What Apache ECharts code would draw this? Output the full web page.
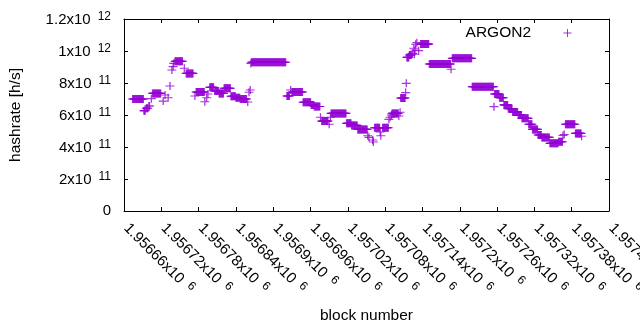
<!DOCTYPE html>
<html>
<head>
<meta charset="utf-8">
<script src="https://cdn.jsdelivr.net/npm/echarts@6/dist/echarts.min.js"></script>
<style>
  html, body { margin: 0; padding: 0; background: #fff; }
  #chart { width: 640px; height: 330px; }
</style>
</head>
<body>
<div id="chart"></div>
<script>
// flat stretches of the ARGON2 hashrate estimate: one point per block from runStart to runEnd
const runStart = [
  1956674, 1956692, 1956696, 1956700, 1956704, 1956706, 1956723, 1956726, 1956731, 1956734,
  1956737, 1956739, 1956740, 1956742, 1956757, 1956760, 1956774, 1956776, 1956790, 1956793,
  1956795, 1956798, 1956806, 1956813, 1956821, 1956832, 1956840, 1956847, 1956859, 1956861,
  1956863, 1956864, 1956865, 1956922, 1956928, 1956930, 1956948, 1956961, 1956966, 1956976,
  1956978, 1956990, 1956992, 1956993, 1957018, 1957026, 1957036, 1957052, 1957054, 1957060,
  1957061, 1957063, 1957072, 1957073, 1957076, 1957086, 1957088, 1957090, 1957091, 1957102,
  1957104, 1957105, 1957113, 1957114, 1957115, 1957119, 1957124, 1957126, 1957127, 1957128,
  1957129, 1957131, 1957134, 1957137, 1957151, 1957186, 1957188, 1957220, 1957255, 1957256,
  1957264, 1957271, 1957278, 1957285, 1957294, 1957300, 1957311, 1957317, 1957326, 1957332,
  1957345, 1957359, 1957366, 1957368, 1957370, 1957386, 1957396
]
const runEnd = [
  1956691, 1956694, 1956698, 1956701, 1956704, 1956719, 1956723, 1956726, 1956731, 1956734,
  1956737, 1956739, 1956740, 1956754, 1956757, 1956771, 1956774, 1956789, 1956790, 1956793,
  1956795, 1956804, 1956812, 1956820, 1956831, 1956839, 1956846, 1956857, 1956859, 1956861,
  1956863, 1956864, 1956920, 1956926, 1956928, 1956947, 1956960, 1956965, 1956975, 1956976,
  1956988, 1956990, 1956992, 1957017, 1957025, 1957035, 1957051, 1957052, 1957054, 1957060,
  1957061, 1957071, 1957072, 1957073, 1957085, 1957086, 1957088, 1957090, 1957101, 1957102,
  1957104, 1957112, 1957113, 1957114, 1957118, 1957122, 1957124, 1957126, 1957127, 1957128,
  1957129, 1957131, 1957134, 1957150, 1957185, 1957186, 1957219, 1957254, 1957255, 1957263,
  1957270, 1957277, 1957284, 1957293, 1957299, 1957310, 1957316, 1957325, 1957331, 1957344,
  1957358, 1957365, 1957366, 1957368, 1957385, 1957395, 1957396
]
const hashrate = [
  7.00e11, 6.27e11, 6.42e11, 6.56e11, 7.02e11, 7.35e11, 6.87e11, 7.25e11, 7.08e11, 7.81e11,
  8.81e11, 9.02e11, 9.23e11, 9.36e11, 8.92e11, 8.60e11, 7.19e11, 7.44e11, 6.83e11, 7.08e11,
  7.31e11, 7.73e11, 7.50e11, 7.35e11, 7.67e11, 7.17e11, 7.08e11, 7.00e11, 6.81e11, 7.42e11,
  7.56e11, 9.22e11, 9.30e11, 7.19e11, 7.56e11, 7.44e11, 6.80e11, 6.63e11, 6.53e11, 5.86e11,
  5.62e11, 5.42e11, 5.86e11, 6.10e11, 5.48e11, 5.35e11, 5.10e11, 4.70e11, 4.60e11, 4.44e11,
  4.31e11, 5.20e11, 4.94e11, 4.70e11, 5.20e11, 5.73e11, 5.86e11, 6.00e11, 6.10e11, 5.94e11,
  6.17e11, 7.06e11, 7.40e11, 7.98e11, 9.60e11, 9.75e11, 9.85e11, 10.17e11, 9.80e11, 10.06e11,
  10.42e11, 10.52e11, 10.02e11, 10.43e11, 9.19e11, 8.86e11, 9.54e11, 7.77e11, 6.52e11, 7.31e11,
  7.08e11, 6.63e11, 6.40e11, 6.19e11, 6.00e11, 5.79e11, 5.42e11, 5.10e11, 4.75e11, 4.60e11,
  4.23e11, 4.33e11, 4.72e11, 4.78e11, 5.42e11, 4.85e11, 4.67e11
]

// axis ranges / tick steps
const xMin = 1956660, xMax = 1957440, xStep = 60
const yMin = 0, yMax = 1.2e12, yStep = 2e11

const seriesName = "ARGON2"
const purple = "#9400d3"
const plus = "path://M0,4H8M4,0V8"
const font = "Liberation Sans, Arial, sans-serif"

const points = []
runStart.forEach((s, i) => {
  for (let b = s; b <= runEnd[i]; b++) points.push([b, hashrate[i]])
})

// gnuplot style "1.2x10^12" labels
function sciLabel(v, exp) {
  if (v === 0) return "{m|0}"
  if (exp == null) exp = Math.floor(Math.log10(v) + 1e-9)
  const mant = +(v / Math.pow(10, exp)).toFixed(5)
  return "{m|" + mant + "x10}{s|" + exp + "}"
}
const rich = {
  m: { fontFamily: font, fontSize: 15, color: "#000", verticalAlign: "bottom" },
  s: { fontFamily: font, fontSize: 12, color: "#000", verticalAlign: "bottom", padding: [0, 0, 5, 7] },
}

const chart = echarts.init(document.getElementById("chart"), null, { renderer: "canvas" })

const tickLine = { color: "#000", width: 1 }

chart.setOption({
  animation: false,
  backgroundColor: "#fff",
  grid: { left: 124, right: 31, top: 19, bottom: 119, outerBoundsMode: "none" },
  legend: {
    data: [{ name: seriesName, icon: plus }],
    right: 63,
    top: 20,
    align: "right",
    itemWidth: 9,
    itemHeight: 8,
    itemStyle: { color: purple, borderColor: purple, borderWidth: 1 },
    textStyle: { fontFamily: font, fontSize: 15.5, color: "#000", padding: [0, 27, 0, 0] },
  },
  xAxis: [
    {
      type: "value",
      position: "bottom",
      min: xMin,
      max: xMax,
      interval: xStep,
      name: "block number",
      nameLocation: "middle",
      nameGap: 97,
      nameTextStyle: { fontFamily: font, fontSize: 15.5, color: "#000" },
      axisLine: { show: true, onZero: false, lineStyle: tickLine },
      axisTick: { show: true, inside: true, length: 4, lineStyle: tickLine },
      axisLabel: {
        rotate: -45,
        margin: 17,
        padding: [0, 0, 8, 0],
        formatter: (v) => sciLabel(v, 6),
        rich,
      },
      splitLine: { show: false },
    },
    {
      type: "value",
      position: "top",
      min: xMin,
      max: xMax,
      interval: xStep,
      axisLine: { show: true, onZero: false, lineStyle: tickLine },
      axisTick: { show: true, inside: true, length: 4, lineStyle: tickLine },
      axisLabel: { show: false },
      splitLine: { show: false },
    },
  ],
  yAxis: [
    {
      type: "value",
      position: "left",
      min: yMin,
      max: yMax,
      interval: yStep,
      name: "hashrate [h/s]",
      nameLocation: "middle",
      nameGap: 100,
      nameRotate: 90,
      nameTextStyle: { fontFamily: font, fontSize: 15.5, color: "#000" },
      axisLine: { show: true, onZero: false, lineStyle: tickLine },
      axisTick: { show: true, inside: true, length: 4, lineStyle: tickLine },
      axisLabel: { margin: 13, formatter: (v) => sciLabel(v), rich },
      splitLine: { show: false },
    },
    {
      type: "value",
      position: "right",
      min: yMin,
      max: yMax,
      interval: yStep,
      axisLine: { show: true, onZero: false, lineStyle: tickLine },
      axisTick: { show: true, inside: true, length: 4, lineStyle: tickLine },
      axisLabel: { show: false },
      splitLine: { show: false },
    },
  ],
  series: [
    {
      name: seriesName,
      type: "scatter",
      xAxisIndex: 0,
      yAxisIndex: 0,
      data: points,
      symbol: plus,
      symbolSize: [9, 8],
      itemStyle: { color: purple, borderColor: purple, borderWidth: 1.2 },
      emphasis: { disabled: true },
      silent: true,
    },
  ],
})
</script>
</body>
</html>
